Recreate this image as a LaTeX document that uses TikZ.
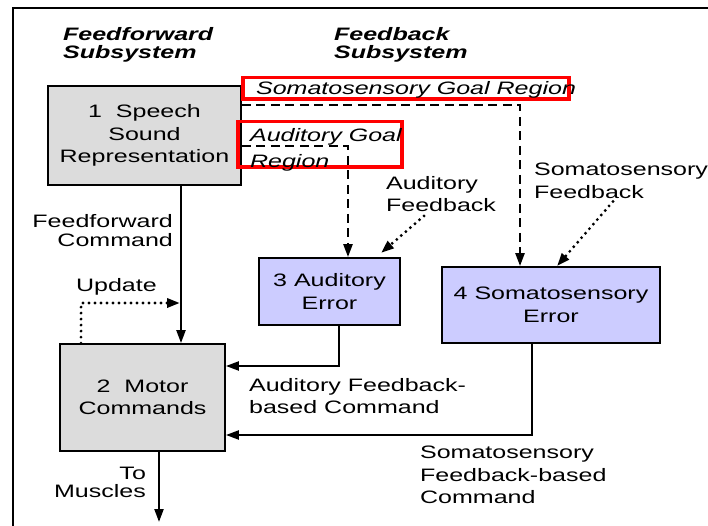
\documentclass[tikz,border=0pt]{standalone}
\usepackage{fontspec}
\setmainfont{Liberation Sans}[FakeStretch=1.39]
\usetikzlibrary{arrows.meta}
\definecolor{boxgray}{HTML}{DCDCDC}
\definecolor{errblue}{HTML}{CCCCFF}
\newcommand\diagfont{\fontsize{18}{22.5}\selectfont}

\begin{document}
\begin{tikzpicture}[x=1pt, y=-1pt, line width=2.2pt,
    every node/.style={font=\diagfont, inner sep=0pt},
    lbl/.style={align=left},
    title/.style={align=left, font=\fontsize{18}{18}\selectfont\bfseries\itshape},
    blockbox/.style={draw, line width=1.8pt, fill=boxgray, align=center},
    errbox/.style={draw, line width=1.8pt, fill=errblue, align=center},
    goalbox/.style={draw=red, line width=3.5pt},
    arr/.style={-{Triangle[length=13pt,width=9pt]}},
    dasharr/.style={arr, line width=2.4pt, dash pattern=on 9pt off 5.5pt},
    dotarr/.style={arr, line width=3.2pt, line cap=round, dash pattern=on 0pt off 6pt}]
      \useasboundingbox (0,0) rectangle (708,526);
      \draw[line width=2.8pt] (13,526) -- (13,8) -- (708,8);

      \node (ffsub) [title, anchor=north west] at (62,26) {Feedforward\\Subsystem};
      \node (fbsub) [title, anchor=north west] at (333,26) {Feedback\\Subsystem};

      \node (speech) [blockbox, minimum width=193pt, minimum height=99pt] at (144.5,135.5) {1\ \ Speech\\Sound\\Representation};
      \node (motor) [blockbox, minimum width=165pt, minimum height=107pt] at (142.5,397.5) {2\ \ Motor\\Commands};
      \node (auderr) [errbox, minimum width=141pt, minimum height=67pt] at (329.5,291.5) {3 Auditory\\Error};
      \node (somerr) [errbox, minimum width=218pt, minimum height=76pt] at (551,305) {4 Somatosensory\\Error};

      \node (somgoalbox) [goalbox, minimum width=326pt, minimum height=21.5pt] at (406,88.5) {};
      \node (audgoalbox) [goalbox, minimum width=164pt, minimum height=45.5pt] at (320,144.5) {};
      \node (somgoal) [anchor=base west, font=\diagfont\itshape] at (255,95) {Somatosensory Goal Region};
      \node (audgoal) [lbl, anchor=north west, font=\fontsize{18}{26}\selectfont\itshape] at (249,127) {Auditory Goal\\Region};

      \node (ffcmd) [align=right, anchor=north east, font=\fontsize{18}{19.5}\selectfont] at (174,213) {Feedforward\\Command};
      \node (update) [anchor=north west] at (75,277) {Update};
      \node (audfb) [lbl, anchor=north west] at (385,175) {Auditory\\Feedback};
      \node (somfb) [lbl, anchor=north west] at (533,162) {Somatosensory\\Feedback};
      \node (audcmdlbl) [lbl, anchor=north west] at (248,377) {Auditory Feedback-\\based Command};
      \node (somcmdlbl) [lbl, anchor=north west] at (419,445) {Somatosensory\\Feedback-based\\Command};
      \node (muscles) [align=right, anchor=north east, font=\fontsize{18}{18}\selectfont] at (147,466) {To\\Muscles};

      \coordinate (ff) at (181,0);
      \coordinate (updturn) at (81,303);
      \coordinate (updend) at (180,303);
      \coordinate (audturn) at (348,146);
      \coordinate (somturn) at (520,105);
      \coordinate (audcmd) at (339,366);
      \coordinate (somcmd) at (532,435);
      \coordinate (musclesend) at (159,522);
      \coordinate (audfbend) at (381,253);
      \coordinate (somfbend) at (557,266);

      \draw[arr] (speech.south -| ff) -- (motor.north -| ff);
      \draw[dotarr] (motor.north -| updturn) -- (updturn) -- (updend);
      \draw[dasharr] (speech.east |- audturn) -- (audturn) -- (auderr.north -| audturn);
      \draw[dasharr] (speech.east |- somturn) -- (somturn) -- (somerr.north -| somturn);
      \draw[arr] (auderr.south -| audcmd) -- (audcmd) -- (motor.east |- audcmd);
      \draw[arr] (somerr.south -| somcmd) -- (somcmd) -- (motor.east |- somcmd);
      \draw[arr] (motor.south -| musclesend) -- (musclesend);
      \draw[dotarr] ([xshift=-17pt,yshift=-3pt]audfb.south) -- (audfbend);
      \draw[dotarr] ([xshift=-8pt,yshift=-2pt]somfb.south) -- (somerr.north -| somfbend);
    \end{tikzpicture}
\end{document}
